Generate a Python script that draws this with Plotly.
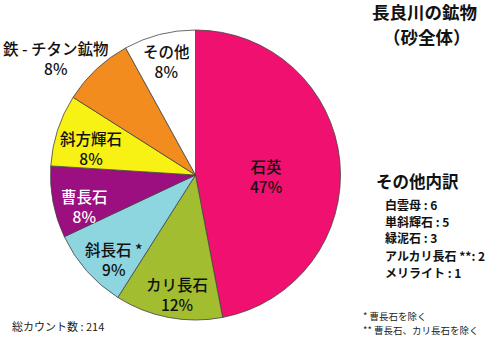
import plotly.graph_objects as go

# Mineral composition of Nagara River sand (whole sample)
minerals = ["石英", "カリ長石", "斜長石 *", "曹長石", "斜方輝石", "鉄 - チタン鉱物", "その他"]
percent = [47, 12, 9, 8, 8, 8, 8]

# Breakdown of the "other" group (grain counts)
other_names = ["白雲母", "単斜輝石", "緑泥石", "アルカリ長石 **", "メリライト"]
other_counts = [6, 5, 3, 2, 1]
total_count = 214

W, H = 500, 340
FONT = "Noto Sans CJK JP"

slice_colors = ["#EF106F", "#A2BE30", "#8DD6E0", "#9C0F80", "#F8F214", "#F28C1E", "#FFFFFF"]
text_colors = ["#111111", "#111111", "#111111", "#FFFFFF", "#111111", "#111111", "#111111"]
# label centre (x, y) in pixels from top-left
label_pos = [(266, 176), (177, 294), (114, 259), (84, 206),
             (91, 148), (56, 58), (166, 61)]


def px(x, y):
    return x / W, 1 - y / H


def note(txt, x, y, size, xanchor="center", weight=None, color="#111111", align="center"):
    ax, ay = px(x, y)
    f = dict(family=FONT, size=size, color=color)
    if weight:
        f["weight"] = weight
    return dict(text=txt, x=ax, y=ay, xref="paper", yref="paper",
                xanchor=xanchor, yanchor="middle", align=align,
                showarrow=False, font=f)


fig = go.Figure(go.Pie(
    labels=minerals,
    values=percent,
    sort=False,
    direction="clockwise",
    rotation=0,
    marker=dict(colors=slice_colors, line=dict(color="#444444", width=0.8)),
    textinfo="none",
    hoverinfo="label+percent",
    domain=dict(x=[50.5 / W, 340.5 / W], y=[20 / H, 310 / H]),
    showlegend=False,
))

ann = []
for name, pct, col, (x, y) in zip(minerals, percent, text_colors, label_pos):
    ann.append(note(f"{name}<br>{pct}%", x, y, 15.5, weight=500, color=col))

# title
ann.append(note("長良川の鉱物", 424, 11.5, 17.5, weight=700))
ann.append(note("（砂全体）", 427, 36.5, 17.5, weight=700))

# breakdown heading and list
ann.append(note("その他内訳", 374, 181, 16.5, xanchor="left", weight=700, align="left"))
for i, (n, c) in enumerate(zip(other_names, other_counts)):
    sep = ": " if n.endswith("*") else " : "
    ann.append(note(f"{n}{sep}{c}", 383, 204 + 17 * i, 12, xanchor="left",
                    weight=600, align="left"))

# footnotes
ann.append(note("* 曹長石を除く", 361, 316, 9.5, xanchor="left", color="#222222", align="left"))
ann.append(note("** 曹長石、カリ長石を除く", 361, 329.5, 9.5, xanchor="left", color="#222222",
                align="left"))

ann.append(note(f"総カウント数 : {total_count}", 10, 326, 11, xanchor="left", color="#222222",
                align="left"))

fig.update_layout(
    width=W, height=H,
    margin=dict(l=0, r=0, t=0, b=0),
    paper_bgcolor="white",
    plot_bgcolor="white",
    annotations=ann,
)

fig.write_html("out.html")
